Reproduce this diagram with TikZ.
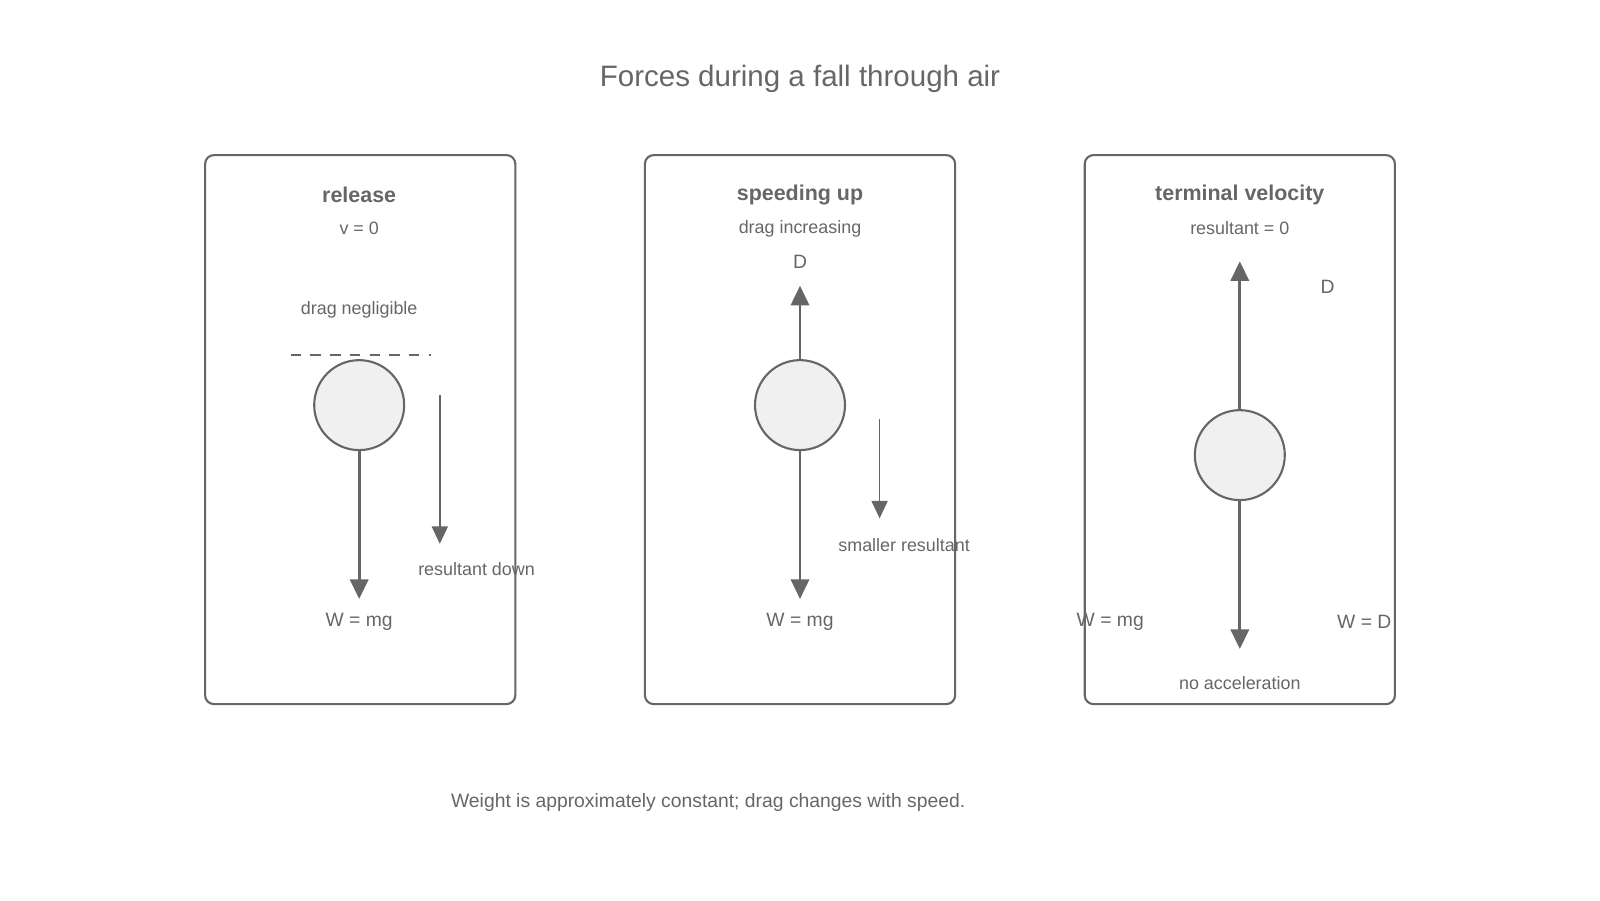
\documentclass[tikz,border=0pt]{standalone}
\usepackage{fontspec}
\setmainfont{Liberation Sans}
\usetikzlibrary{arrows.meta,positioning}
\definecolor{ink}{HTML}{666666}
\definecolor{ballfill}{HTML}{F0F0F0}
\tikzset{
  panel/.style={draw=ink,line width=0.6pt,rounded corners=2.5pt},
  ball/.style={circle,draw=ink,fill=ballfill,line width=0.6pt,minimum size=0.9cm,inner sep=0pt},
  force/.style={draw=ink,line width=0.8pt,-{Triangle[length=5.6pt,width=5.2pt]}},
  result/.style={draw=ink,line width=0.45pt,-{Triangle[length=5pt,width=4.6pt]}},
  head/.style={text=ink,font=\fontsize{6.1}{7}\selectfont\bfseries},
  lbl/.style={text=ink,font=\fontsize{5.1}{6}\selectfont},
  mid/.style={text=ink,font=\fontsize{5.5}{7}\selectfont},
  big/.style={text=ink,font=\fontsize{8.4}{10}\selectfont}
}
\begin{document}
\begin{tikzpicture}[x=0.0102041cm,y=-0.0102041cm]
  \useasboundingbox (0,0) rectangle (1568,882);
  \node[big] (title) at (784,77) {Forces during a fall through air};
  % release
  \draw[panel] (201,152) rectangle (505,690);
  \node[head] (h1) at (352,191) {release};
  \node[lbl] (s1) at (352,224) {v = 0};
  \node[lbl] (n1) at (352,304) {drag negligible};
  \draw[ink,line width=0.4pt,dash pattern=on 3pt off 2.6pt] (285,348) -- (422,348);
  \node[ball] (b1) at (352,397) {};
  \coordinate (w1) at (352,587);
  \draw[force] (b1) -- (w1);
  \node[mid] (wl1) at (352,609) {W = mg};
  \coordinate (r1a) at (431,387);
  \coordinate (r1b) at (431,533);
  \draw[result] (r1a) -- (r1b);
  \node[lbl] (rl1) at (467,558) {resultant down};
  % speeding up
  \draw[panel] (632,152) rectangle (936,690);
  \node[head] (h2) at (784,191) {speeding up};
  \node[lbl] (s2) at (784,224) {drag increasing};
  \node[mid] (d2) at (784,257) {D};
  \node[ball] (b2) at (784,397) {};
  \coordinate (u2) at (784,280);
  \coordinate (w2) at (784,587);
  \draw[force] (b2) -- (u2);
  \draw[force] (b2) -- (w2);
  \node[mid] (wl2) at (784,609) {W = mg};
  \coordinate (r2a) at (862,411);
  \coordinate (r2b) at (862,508);
  \draw[result] (r2a) -- (r2b);
  \node[lbl] (rl2) at (886,534) {smaller resultant};
  % terminal velocity
  \draw[panel] (1063,152) rectangle (1367,690);
  \node[head] (h3) at (1215,191) {terminal velocity};
  \node[lbl] (s3) at (1215,224) {resultant = 0};
  \node[mid] (d3) at (1301,281) {D};
  \node[ball] (b3) at (1215,446) {};
  \coordinate (u3) at (1215,256);
  \coordinate (w3) at (1215,636);
  \draw[force] (b3) -- (u3);
  \draw[force] (b3) -- (w3);
  \node[mid] (wl3) at (1088,609) {W = mg};
  \node[mid] (wd3) at (1337,609) {W = D};
  \node[lbl] (na3) at (1215,669) {no acceleration};
  \node[mid] (foot) at (694,786) {Weight is approximately constant; drag changes with speed.};
\end{tikzpicture}
\end{document}
